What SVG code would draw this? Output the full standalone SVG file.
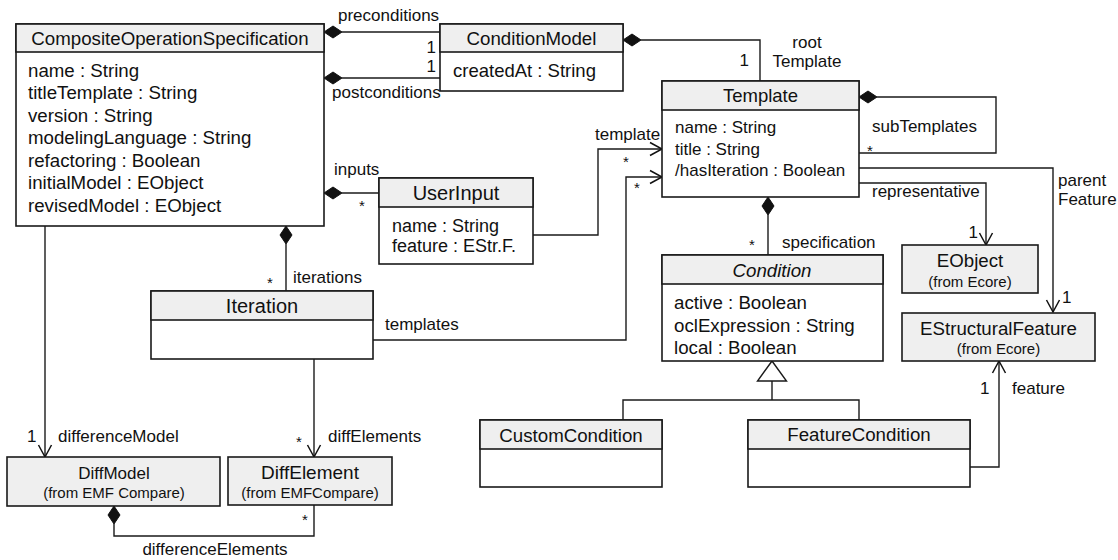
<svg xmlns="http://www.w3.org/2000/svg" width="1118" height="560" viewBox="0 0 1118 560">
  <style>
    text { font-family: "Liberation Sans", Arial, sans-serif; fill: #111; }
    .box { fill: #fff; stroke: #1a1a1a; stroke-width: 1.6; }
    .hdr { fill: #efefef; stroke: #1a1a1a; stroke-width: 1.6; }
    .lib { fill: #efefef; stroke: #1a1a1a; stroke-width: 1.6; }
    .ttl { font-size: 18.7px; text-anchor: middle; }
    .att { font-size: 18.7px; }
    .sub { font-size: 15px; text-anchor: middle; }
    .lbl { font-size: 17px; }
    .mul { font-size: 15px; }
    .ln { fill: none; stroke: #1a1a1a; stroke-width: 1.4; }
    .dia { fill: #111; stroke: #111; stroke-width: 1; }
    .gen { fill: #fff; stroke: #1a1a1a; stroke-width: 1.4; }
  </style>
  <defs>
    <marker id="open" viewBox="-14 -8 16 16" refX="0" refY="0" markerWidth="16" markerHeight="16" orient="auto" markerUnits="userSpaceOnUse">
      <path d="M-12,-6.5 L0,0 L-12,6.5" fill="none" stroke="#111" stroke-width="1.5"/>
    </marker>
  </defs>
  <rect width="1118" height="560" fill="#fff"/>

  <!-- associations, compositions and generalization -->
  <g id="connectors">
    <!-- preconditions / postconditions -->
    <path class="ln" d="M342,32 H440"/>
    <path class="dia" d="M324,32 l9,-6 l9,6 l-9,6 z"/>
    <path class="ln" d="M342,78 H440"/>
    <path class="dia" d="M324,78 l9,-6 l9,6 l-9,6 z"/>
    <text class="lbl" x="338" y="21">preconditions</text>
    <text class="lbl" x="436" y="53" text-anchor="end">1</text>
    <text class="lbl" x="436" y="72" text-anchor="end">1</text>
    <text class="lbl" x="332" y="98">postconditions</text>

    <!-- rootTemplate -->
    <path class="ln" d="M641,40 H760 V81"/>
    <path class="dia" d="M623,40 l9,-6 l9,6 l-9,6 z"/>
    <text class="lbl" x="749" y="66" text-anchor="end">1</text>
    <text class="lbl" x="807" y="48" text-anchor="middle">root</text>
    <text class="lbl" x="807" y="67" text-anchor="middle">Template</text>

    <!-- subTemplates -->
    <path class="ln" d="M877,97 H996 V153 H859"/>
    <path class="dia" d="M859,97 l9,-6 l9,6 l-9,6 z"/>
    <text class="lbl" x="872" y="132">subTemplates</text>
    <text class="mul" x="867" y="156">*</text>

    <!-- parentFeature -->
    <path class="ln" d="M859,168 H1053 V312" marker-end="url(#open)"/>
    <text class="lbl" x="1058" y="186">parent</text>
    <text class="lbl" x="1058" y="205">Feature</text>
    <text class="lbl" x="1062" y="303">1</text>

    <!-- representative -->
    <path class="ln" d="M859,183 H986 V245" marker-end="url(#open)"/>
    <text class="lbl" x="872" y="197">representative</text>
    <text class="lbl" x="978" y="238" text-anchor="end">1</text>

    <!-- specification -->
    <path class="ln" d="M768,215 V255"/>
    <path class="dia" d="M768,197 l6,9 l-6,9 l-6,-9 z"/>
    <text class="mul" x="749" y="250">*</text>
    <text class="lbl" x="782" y="248">specification</text>

    <!-- inputs -->
    <path class="ln" d="M342,193 H379"/>
    <path class="dia" d="M324,193 l9,-6 l9,6 l-9,6 z"/>
    <text class="lbl" x="334" y="175">inputs</text>
    <text class="mul" x="359" y="211">*</text>

    <!-- UserInput template -->
    <path class="ln" d="M533,235 H598 V149 H662" marker-end="url(#open)"/>
    <text class="lbl" x="595" y="140">template</text>
    <text class="mul" x="623" y="167">*</text>

    <!-- Iteration templates -->
    <path class="ln" d="M373,340 H626 V177 H662" marker-end="url(#open)"/>
    <text class="lbl" x="385" y="330">templates</text>
    <text class="mul" x="634" y="193">*</text>

    <!-- iterations -->
    <path class="ln" d="M286,244 V291"/>
    <path class="dia" d="M286,226 l6,9 l-6,9 l-6,-9 z"/>
    <text class="mul" x="267" y="288">*</text>
    <text class="lbl" x="293" y="283">iterations</text>

    <!-- differenceModel -->
    <path class="ln" d="M45,226 V457" marker-end="url(#open)"/>
    <text class="lbl" x="27" y="442">1</text>
    <text class="lbl" x="58" y="442">differenceModel</text>

    <!-- diffElements -->
    <path class="ln" d="M314,359 V457" marker-end="url(#open)"/>
    <text class="mul" x="296" y="447">*</text>
    <text class="lbl" x="328" y="442">diffElements</text>

    <!-- differenceElements -->
    <path class="ln" d="M114,524 V536 H314 V505"/>
    <path class="dia" d="M114,506 l6,9 l-6,9 l-6,-9 z"/>
    <text class="mul" x="302" y="525">*</text>
    <text class="lbl" x="215" y="555" text-anchor="middle">differenceElements</text>

    <!-- generalization of Condition -->
    <path class="ln" d="M772,381 V400 M623,420 V400 H859 V420"/>
    <path class="gen" d="M772,361 L786.5,381 H757.5 Z"/>

    <!-- feature -->
    <path class="ln" d="M970,467 H999 V361" marker-end="url(#open)"/>
    <text class="lbl" x="980" y="394">1</text>
    <text class="lbl" x="1012" y="394">feature</text>
  </g>

  <g id="CompositeOperationSpecification">
    <rect class="box" x="16" y="24" width="308" height="202"/>
    <rect class="hdr" x="16" y="24" width="308" height="28"/>
    <text class="ttl" x="170" y="45">CompositeOperationSpecification</text>
    <text class="att" x="28" y="76.5">name : String</text>
    <text class="att" x="28" y="99">titleTemplate : String</text>
    <text class="att" x="28" y="121.5">version : String</text>
    <text class="att" x="28" y="144">modelingLanguage : String</text>
    <text class="att" x="28" y="166.5">refactoring : Boolean</text>
    <text class="att" x="28" y="189">initialModel : EObject</text>
    <text class="att" x="28" y="211.5">revisedModel : EObject</text>
  </g>

  <g id="ConditionModel">
    <rect class="box" x="440" y="24" width="183" height="67"/>
    <rect class="hdr" x="440" y="24" width="183" height="28"/>
    <text class="ttl" x="531.5" y="45">ConditionModel</text>
    <text class="att" x="453" y="77" style="font-size:18.5px">createdAt : String</text>
  </g>

  <g id="Template">
    <rect class="box" x="662" y="81" width="197" height="116"/>
    <rect class="hdr" x="662" y="81" width="197" height="29"/>
    <text class="ttl" x="760.5" y="102" style="font-size:18.5px">Template</text>
    <text class="att" x="675" y="133" style="font-size:17px">name : String</text>
    <text class="att" x="675" y="155" style="font-size:17px">title : String</text>
    <text class="att" x="675" y="176" style="font-size:17px">/hasIteration : Boolean</text>
  </g>

  <g id="UserInput">
    <rect class="box" x="379" y="178" width="154" height="86"/>
    <rect class="hdr" x="379" y="178" width="154" height="29"/>
    <text class="ttl" x="456" y="200" style="font-size:20px">UserInput</text>
    <text class="att" x="392" y="232" style="font-size:18px">name : String</text>
    <text class="att" x="392" y="252" style="font-size:18px">feature : EStr.F.</text>
  </g>

  <g id="Iteration">
    <rect class="box" x="151" y="291" width="222" height="68"/>
    <rect class="hdr" x="151" y="291" width="222" height="29"/>
    <text class="ttl" x="262" y="313" style="font-size:20px">Iteration</text>
  </g>

  <g id="Condition">
    <rect class="box" x="662" y="255" width="221" height="106"/>
    <rect class="hdr" x="662" y="255" width="221" height="29"/>
    <text class="ttl" x="772" y="277" font-style="italic">Condition</text>
    <text class="att" x="674" y="309">active : Boolean</text>
    <text class="att" x="674" y="331.5">oclExpression : String</text>
    <text class="att" x="674" y="354">local : Boolean</text>
  </g>

  <g id="EObject">
    <rect class="lib" x="902" y="245" width="136" height="48"/>
    <text class="ttl" x="970" y="267">EObject</text>
    <text class="sub" x="970" y="287">(from Ecore)</text>
  </g>

  <g id="EStructuralFeature">
    <rect class="lib" x="902" y="313" width="193" height="48"/>
    <text class="ttl" x="998.5" y="335">EStructuralFeature</text>
    <text class="sub" x="998.5" y="354">(from Ecore)</text>
  </g>

  <g id="CustomCondition">
    <rect class="box" x="480" y="420" width="182" height="67"/>
    <rect class="hdr" x="480" y="420" width="182" height="29"/>
    <text class="ttl" x="571" y="442">CustomCondition</text>
  </g>

  <g id="FeatureCondition">
    <rect class="box" x="748" y="420" width="222" height="67"/>
    <rect class="hdr" x="748" y="420" width="222" height="29"/>
    <text class="ttl" x="859" y="441">FeatureCondition</text>
  </g>

  <g id="DiffModel">
    <rect class="lib" x="7" y="457" width="213" height="49"/>
    <text class="ttl" x="114" y="479" style="font-size:17px">DiffModel</text>
    <text class="sub" x="114" y="498">(from EMF Compare)</text>
  </g>

  <g id="DiffElement">
    <rect class="lib" x="228" y="457" width="164" height="48"/>
    <text class="ttl" x="310" y="479" style="font-size:19px">DiffElement</text>
    <text class="sub" x="310" y="498">(from EMFCompare)</text>
  </g>
</svg>
